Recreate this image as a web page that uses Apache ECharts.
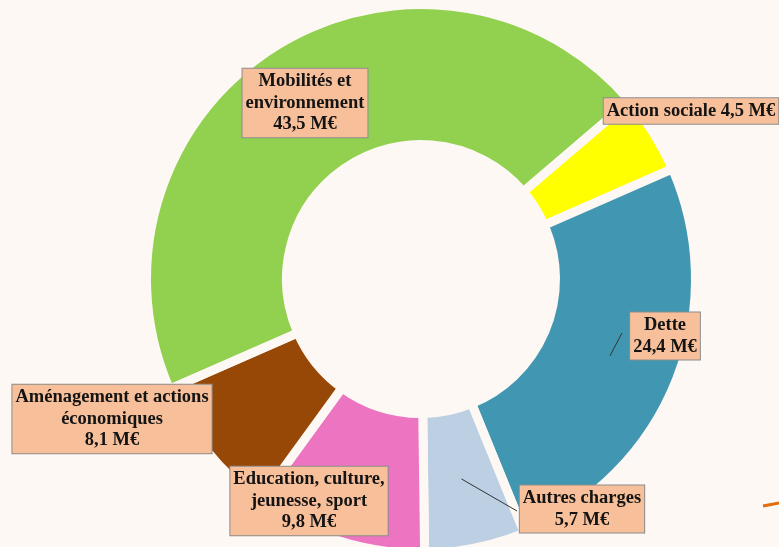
<!DOCTYPE html>
<html>
<head>
<meta charset="utf-8">
<script src="https://cdn.jsdelivr.net/npm/echarts@6/dist/echarts.min.js"></script>
<style>
  html, body { margin: 0; padding: 0; background: #fdf8f4; }
  #budget { width: 779px; height: 547px; }
</style>
</head>
<body>
<div id="budget"></div>
<script>
// postes du budget (M€), dans l'ordre horaire à partir de l'action sociale
var categories = ['Action sociale', 'Dette', 'Autres charges',
	'Education, culture, jeunesse, sport', 'Aménagement et actions économiques',
	'Mobilités et environnement'];
var labelNames = ['Action sociale', 'Dette', 'Autres charges',
	'Education, culture,\njeunesse, sport', 'Aménagement et actions\néconomiques',
	'Mobilités et\nenvironnement'];
var montants = [4.5, 24.4, 5.7, 9.8, 8.1, 43.5];
var couleurs = ['#ffff00', '#4197b2', '#bccfe3', '#ec74c0', '#974806', '#92d050'];

// centre des étiquettes (px) et bout des traits de rappel
var labelPos = [[691, 111], [665, 336], [582, 509], [309, 501], [112, 419], [305, 103]];
var lineEnds = [null, [622, 333], [517, 511], null, null, null];

var bg = '#fdf8f4';
var centre = [421, 279];
var debut = 40.5;      // angle de départ (degrés)
var rayonMilieu = 204; // rayon moyen de l'anneau

var sliceData = [];
var labelData = [];
for (var i = 0; i < categories.length; i++) {
	sliceData.push({ name: categories[i], value: montants[i], itemStyle: { color: couleurs[i] } });
	labelData.push({ name: categories[i], value: montants[i] });
}

function fmt(v) {
	return v.toFixed(1).replace('.', ',') + ' M€';
}

// traits de rappel : du milieu de la part vers l'étiquette
var total = montants.reduce(function (a, b) { return a + b; }, 0);
var traits = [];
var cumul = 0;
for (var j = 0; j < montants.length; j++) {
	var mid = (debut - 360 * (cumul + montants[j] / 2) / total) * Math.PI / 180;
	cumul += montants[j];
	if (!lineEnds[j]) continue;
	traits.push({
		type: 'line',
		z: 10,
		shape: {
			x1: centre[0] + rayonMilieu * Math.cos(mid),
			y1: centre[1] - rayonMilieu * Math.sin(mid),
			x2: lineEnds[j][0],
			y2: lineEnds[j][1]
		},
		style: { stroke: '#333333', lineWidth: 1 }
	});
}
traits.push({
	type: 'line',
	shape: { x1: 763, y1: 506, x2: 779, y2: 503 },
	style: { stroke: '#e46c0a', lineWidth: 3 }
});

var chart = echarts.init(document.getElementById('budget'));
chart.setOption({
	backgroundColor: bg,
	animation: false,
	series: [
		{
			type: 'pie',
			center: centre,
			radius: [134.5, 274.5],
			startAngle: debut,
			clockwise: true,
			silent: true,
			label: { show: false },
			labelLine: { show: false },
			itemStyle: { borderColor: bg, borderWidth: 9 },
			data: sliceData
		},
		{
			// anneau invisible : porte les étiquettes
			type: 'pie',
			center: centre,
			radius: [0, rayonMilieu],
			startAngle: debut,
			clockwise: true,
			silent: true,
			z: 5,
			avoidLabelOverlap: false,
			itemStyle: { color: 'rgba(253,248,244,0)', borderWidth: 0 },
			label: {
				show: true,
				position: 'outside',
				formatter: function (p) {
					var sep = p.dataIndex === 0 ? ' ' : '\n';
					return labelNames[p.dataIndex] + sep + fmt(p.value);
				},
				fontFamily: 'Liberation Serif',
				fontWeight: 'bold',
				fontSize: 18.5,
				lineHeight: 21.5,
				color: '#141414',
				align: 'center',
				backgroundColor: '#f8c09a',
				borderColor: '#8c8c8c',
				borderWidth: 1,
				padding: [2, 3]
			},
			labelLine: { show: false },
			labelLayout: function (params) {
				var p = labelPos[params.dataIndex];
				return { x: p[0], y: p[1], align: 'center', verticalAlign: 'middle' };
			},
			data: labelData
		}
	],
	graphic: traits
});
</script>
</body>
</html>
